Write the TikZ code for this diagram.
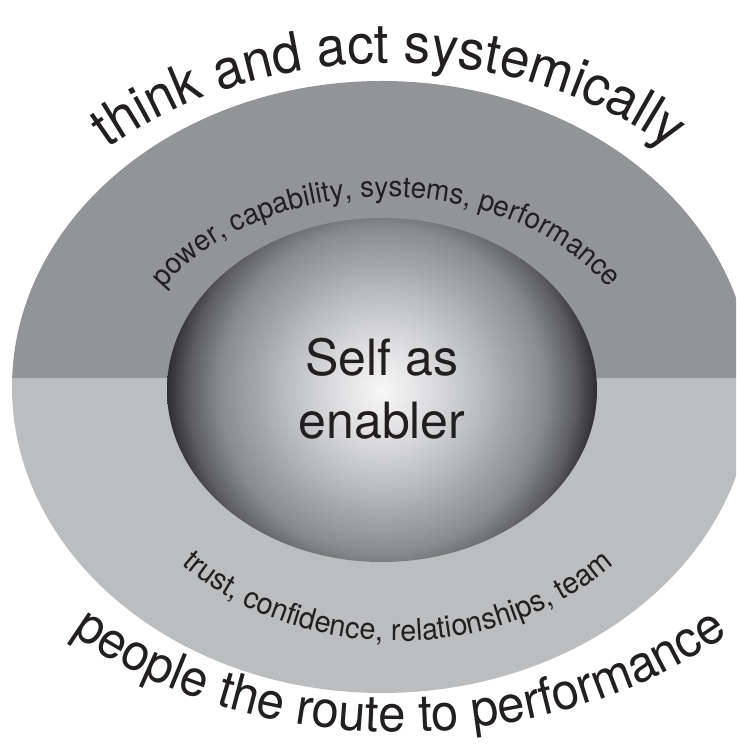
\documentclass[tikz,border=0pt]{standalone}
\usepackage{fontspec}
\setmainfont{TeX Gyre Heros}
\newfontfamily\arcfont[FakeStretch=0.96]{TeX Gyre Heros}
\usepackage{tikz}
\usetikzlibrary{decorations.text}

\definecolor{ink}{HTML}{231F20}
\definecolor{bandtop}{HTML}{939498}
\definecolor{bandbottom}{HTML}{BCBDBF}
\pgfdeclareradialshading{selfglow}{\pgfpoint{0bp}{0bp}}{rgb(0bp)=(0.97,0.97,0.97); rgb(6bp)=(0.86,0.86,0.87); rgb(12.5bp)=(0.70,0.71,0.72); rgb(19bp)=(0.53,0.54,0.56); rgb(22.5bp)=(0.36,0.36,0.38); rgb(25bp)=(0.18,0.18,0.19); rgb(50bp)=(0.18,0.18,0.19)}

\tikzset{
  arctext/.style={decorate, decoration={text along path, text align=center, text color=ink, text={#1}}},
}

\begin{document}
\begin{tikzpicture}[x=1pt, y=1pt]
    \useasboundingbox (0,0) rectangle (736,744);
    \clip (0,0) rectangle (736,744);
    \coordinate (ring) at (382,357);
    \coordinate (core) at (382,354);
    \begin{scope}
        \clip (ring) ellipse [x radius=370pt, y radius=306pt];
        \fill[bandtop] (0,366) rectangle (760,744);
        \fill[bandbottom] (0,0) rectangle (760,366);
    \end{scope}
    \begin{scope}
        \clip (core) ellipse [x radius=215pt, y radius=172pt];
        \shade[shading=selfglow] (core) circle [radius=215pt];
    \end{scope}
    \node[text=ink, align=center, font=\fontsize{50}{63}\selectfont] at (382,355) (self) {Self as\\enabler};
    \coordinate (toparc) at (389,357);
    \coordinate (powerarc) at (386,354);
    \coordinate (trustarc) at (398,354);
    \coordinate (peoplearc) at (400,357);
    \path[arctext={|\arcfont\fontsize{55}{60}\selectfont|think and act systemically}]
        ([shift={(150:415pt and 324pt)}]toparc) arc [start angle=150, end angle=30, x radius=415pt, y radius=324pt];
    \path[arctext={|\arcfont\fontsize{29}{30}\selectfont|power, capability, systems, performance}]
        ([shift={(160:262pt and 193pt)}]powerarc) arc [start angle=160, end angle=20, x radius=262pt, y radius=193pt];
    \path[arctext={|\arcfont\fontsize{30}{30}\selectfont|trust, confidence, relationships, team}]
        ([shift={(210:300pt and 251pt)}]trustarc) arc [start angle=210, end angle=330, x radius=300pt, y radius=251pt];
    \path[arctext={|\arcfont\fontsize{51}{60}\selectfont|people the route to performance}]
        ([shift={(210:470pt and 345pt)}]peoplearc) arc [start angle=210, end angle=330, x radius=470pt, y radius=345pt];
\end{tikzpicture}
\end{document}
